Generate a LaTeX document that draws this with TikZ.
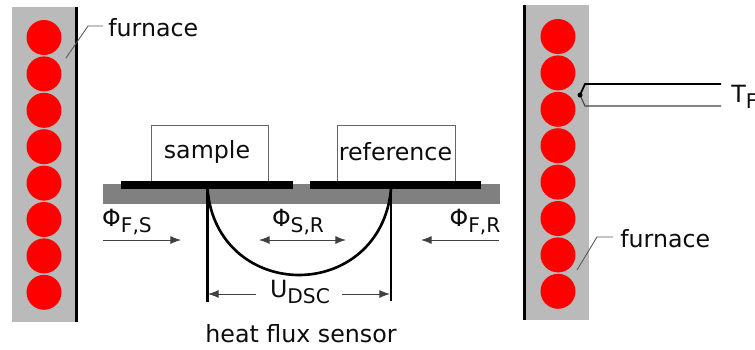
\documentclass[tikz,border=0pt]{standalone}
\usepackage{fontspec}
\setmainfont{DejaVu Sans}
\usetikzlibrary{arrows.meta}

\definecolor{furnacegray}{gray}{0.73}
\definecolor{plategray}{gray}{0.5}
\newcommand{\subtxt}[1]{{\fontsize{11.5}{13}\selectfont\raisebox{-3.5pt}{#1}}}
\tikzset{
  label/.style={font=\fontsize{13.5}{16}\selectfont,inner sep=0pt,text=black!95},
  crucible/.style={draw=black!60,fill=white,minimum width=2.36cm,minimum height=1.14cm,inner sep=0pt,anchor=north west,line width=0.5pt},
  flow/.style={-{Latex[length=6pt,width=4.5pt]},draw=black!75,line width=0.5pt},
  flowboth/.style={{Latex[length=6pt,width=4.5pt]}-{Latex[length=6pt,width=4.5pt]},draw=black!75,line width=0.5pt},
  heater/.style={circle,fill=red,minimum size=0.7cm,inner sep=0pt},
  leader/.style={draw=black!65,line width=0.5pt}
}

\begin{document}
\begin{tikzpicture}[x=0.02cm,y=-0.02cm]
\useasboundingbox (0,0) rectangle (755,349);

% furnace walls
\fill [furnacegray] (12,7) rectangle (76,322);
\fill [furnacegray] (524,5) rectangle (589,320);
\draw [line width=1.9pt] (76.5,7) -- (76.5,322);
\draw [line width=1.9pt] (524.5,5) -- (524.5,320);
\foreach \i in {0,...,7} {
  \node [heater] (heatl\i) at (44,37.5+36.4*\i) {};
  \node [heater] (heatr\i) at (558,36.5+36.4*\i) {};
}

% sensor plate
\fill [plategray] (103,184) rectangle (500,204);
\node [crucible] (sample) at (150.5,124.5) {};
\node [crucible] (reference) at (337,124.5) {};
\node [label] at (207,152) {sample};
\node [label] at (395.5,152) {reference};
\fill (121,181) rectangle (293,189);
\fill (310,181) rectangle (481,189);

% thermocouple
\coordinate (sl) at (207.5,189); \coordinate (sr) at (391,189);
\coordinate (el) at (207.5,302); \coordinate (er) at (391,301);
\draw [line width=1.4pt] (sl) -- (el);
\draw [line width=1.4pt] (sr) -- (er);
\draw [line width=1.5pt] (sl) .. controls (212,245) and (255,275) .. (299,275) .. controls (343,275) and (386,245) .. (sr);

% heat flows
\node [label] (fs) at (127,222) {Φ\subtxt{F,S}};
\node [label] (srl) at (298,222) {Φ\subtxt{S,R}};
\node [label] (fr) at (475,222) {Φ\subtxt{F,R}};
\coordinate (fsa) at (103,240); \coordinate (fsb) at (181,240);
\coordinate (sra) at (259,240); \coordinate (srb) at (346,240);
\coordinate (fra) at (499,240); \coordinate (frb) at (421,240);
\draw [flow] (fsa) -- (fsb);
\draw [flowboth] (sra) -- (srb);
\draw [flow] (fra) -- (frb);

% voltage
\node [label] (udsc) at (300,292) {U\subtxt{DSC}};
\coordinate (ua) at (256,294); \coordinate (ub) at (208,294);
\coordinate (uc) at (342,294); \coordinate (ud) at (390,294);
\draw [flow] (ua) -- (ub);
\draw [flow] (uc) -- (ud);
\node [label] (sensor) at (301,334) {heat f{}lux sensor};

% furnace labels
\node [label,anchor=west] (furnl) at (108,28) {furnace};
\node [label,anchor=west] (furnr) at (620,239) {furnace};
\coordinate (la) at (66,58); \coordinate (lb) at (88,26); \coordinate (lc) at (103,26);
\coordinate (ra) at (577,270); \coordinate (rb) at (597,237); \coordinate (rc) at (613,237);
\draw [leader] (la) -- (lb) -- (lc);
\draw [leader] (ra) -- (rb) -- (rc);

% furnace thermocouple
\coordinate (tip) at (580,95);
\coordinate (tua) at (585,84); \coordinate (tub) at (721,84);
\coordinate (tla) at (585,106); \coordinate (tlb) at (721,106);
\draw [line width=1pt] (tip) -- (tua) -- (tub);
\draw [draw=black!75,line width=0.6pt] (tip) -- (tla) -- (tlb);
\fill (tip) circle (2.5);
\node [label,anchor=west] (tf) at (731,97) {T\subtxt{F}};
\end{tikzpicture}
\end{document}
